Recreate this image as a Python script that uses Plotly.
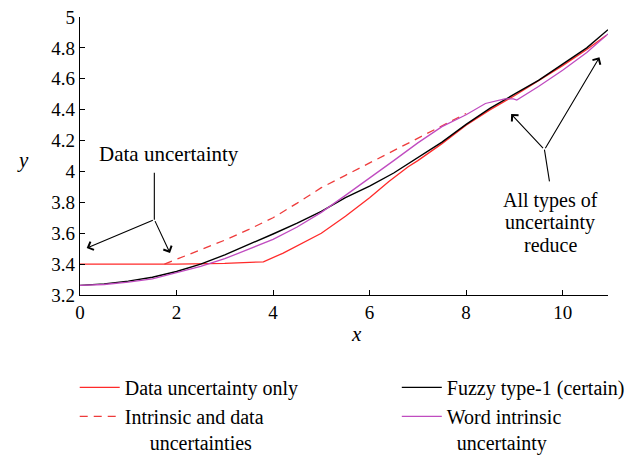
import plotly.graph_objects as go

# ---- series data ----
x_data_only = [0, 1.0, 2.0, 3.0, 3.8, 4.2, 4.6, 5.0, 5.5, 6.0, 6.4, 6.8, 7.0, 7.5, 8.0, 8.5, 9.0, 9.5, 10.0, 10.5, 10.9]
y_data_only = [3.40, 3.40, 3.40, 3.405, 3.415, 3.47, 3.535, 3.60, 3.71, 3.83, 3.935, 4.03, 4.07, 4.18, 4.30, 4.40, 4.49, 4.585, 4.685, 4.79, 4.88]

x_intr_data = [1.75, 2.0, 2.5, 3.0, 3.5, 4.0, 4.5, 5.0, 5.5, 6.0, 6.5, 7.0, 7.5, 8.0]
y_intr_data = [3.40, 3.43, 3.49, 3.555, 3.625, 3.70, 3.795, 3.895, 3.975, 4.055, 4.135, 4.22, 4.30, 4.375]

x_type1 = [0, 0.5, 1.0, 1.5, 2.0, 2.5, 3.0, 3.5, 4.0, 4.5, 5.0, 5.5, 6.0, 6.5, 7.0, 7.5, 8.0, 8.5, 9.0, 9.5, 10.0, 10.5, 10.94]
y_type1 = [3.262, 3.272, 3.29, 3.315, 3.352, 3.40, 3.46, 3.525, 3.595, 3.665, 3.742, 3.83, 3.905, 3.99, 4.088, 4.19, 4.305, 4.41, 4.50, 4.59, 4.695, 4.80, 4.918]

x_word = [0, 0.5, 1.0, 1.5, 2.0, 2.5, 3.0, 3.5, 4.0, 4.5, 5.0, 5.5, 6.0, 6.5, 7.0, 7.5, 8.0, 8.4, 8.8, 8.98, 9.05, 9.5, 10.0, 10.5, 10.94]
y_word = [3.262, 3.268, 3.283, 3.305, 3.345, 3.385, 3.435, 3.495, 3.56, 3.64, 3.735, 3.845, 3.955, 4.07, 4.185, 4.29, 4.367, 4.44, 4.47, 4.47, 4.462, 4.55, 4.655, 4.77, 4.89]

# ---- axis ticks ----
x_ticks = [0, 2, 4, 6, 8, 10]
x_tick_text = ["0", "2", "4", "6", "8", "10"]
y_ticks = [3.2, 3.4, 3.6, 3.8, 4.0, 4.2, 4.4, 4.6, 4.8, 5.0]
y_tick_text = ["3.2", "3.4", "3.6", "3.8", "4", "4.2", "4.4", "4.6", "4.8", "5"]

SERIF = "Liberation Serif, Times New Roman, serif"
NB = "\u00a0"

fig = go.Figure()

fig.add_trace(go.Scatter(
    x=x_data_only, y=y_data_only, mode="lines",
    name="Data uncertainty only",
    line=dict(color="#ff2a2a", width=1.3), legend="legend",
))
fig.add_trace(go.Scatter(
    x=x_intr_data, y=y_intr_data, mode="lines",
    name="Intrinsic and data<br>" + NB * 5 + "uncertainties",
    line=dict(color="#ee3b3b", width=1.3, dash="8px,6px"), legend="legend",
))
fig.add_trace(go.Scatter(
    x=x_type1, y=y_type1, mode="lines",
    name="Fuzzy type-1 (certain)",
    line=dict(color="#000000", width=1.4), legend="legend2",
))
fig.add_trace(go.Scatter(
    x=x_word, y=y_word, mode="lines",
    name="Word intrinsic<br>" + NB * 2 + "uncertainty",
    line=dict(color="#c04cc0", width=1.3), legend="legend2",
))

arrow = dict(xref="x", yref="y", axref="x", ayref="y", text="", showarrow=True,
             arrowhead=4, arrowsize=1.6, arrowwidth=1.1, arrowcolor="#000000", standoff=0)

annotations = [
    # left callout
    dict(x=1.845, y=4.115, xref="x", yref="y", text="Data uncertainty", showarrow=False,
         font=dict(family=SERIF, size=21, color="#000")),
    dict(arrow, x=0.139, y=3.504, ax=1.54, ay=3.688),
    dict(arrow, x=1.865, y=3.472, ax=1.54, ay=3.688),
    # right callout
    dict(x=9.741, y=3.811, xref="x", yref="y", text="All types of", showarrow=False,
         font=dict(family=SERIF, size=20, color="#000")),
    dict(x=9.741, y=3.668, xref="x", yref="y", text="uncertainty", showarrow=False,
         font=dict(family=SERIF, size=20, color="#000")),
    dict(x=9.741, y=3.526, xref="x", yref="y", text="reduce", showarrow=False,
         font=dict(family=SERIF, size=20, color="#000")),
    dict(arrow, x=8.933, y=4.372, ax=9.623, ay=4.141),
    dict(arrow, x=10.763, y=4.739, ax=9.623, ay=4.141),
    # axis labels
    dict(x=0.5246, y=-0.19, xref="paper", yref="paper", text="<i>x</i>", showarrow=False,
         font=dict(family=SERIF, size=21, color="#000")),
    dict(x=-0.123, y=0.487, xref="paper", yref="paper", text="<i>y</i>", showarrow=False,
         font=dict(family=SERIF, size=21, color="#000")),
]

shapes = [
    dict(type="line", xref="x", yref="y", x0=1.54, y0=3.992, x1=1.54, y1=3.688,
         line=dict(color="#000", width=1.1)),
    dict(type="line", xref="x", yref="y", x0=9.727, y0=3.936, x1=9.623, y1=4.141,
         line=dict(color="#000", width=1.1)),
]

axis_common = dict(
    showline=True, linecolor="#000", linewidth=1.2, mirror=False,
    ticks="inside", ticklen=5, tickwidth=1, tickcolor="#000",
    showgrid=False, zeroline=False,
    tickfont=dict(family=SERIF, size=19, color="#000"),
)

legend_common = dict(
    orientation="v", xanchor="left", yanchor="top", y=-0.262,
    font=dict(family=SERIF, size=20, color="#000"),
    bgcolor="rgba(0,0,0,0)", borderwidth=0, valign="top",
    itemwidth=40, tracegroupgap=0,
)

fig.update_layout(
    width=637, height=455,
    margin=dict(l=80, r=29, t=17, b=160, autoexpand=False),
    paper_bgcolor="#ffffff", plot_bgcolor="#ffffff",
    xaxis=dict(axis_common, range=[0, 10.94], tickvals=x_ticks, ticktext=x_tick_text),
    yaxis=dict(axis_common, range=[3.2, 5.0], tickvals=y_ticks, ticktext=y_tick_text),
    legend=dict(legend_common, x=-0.01),
    legend2=dict(legend_common, x=0.6),
    annotations=annotations,
    shapes=shapes,
    showlegend=True,
)

fig.write_html("out.html")
